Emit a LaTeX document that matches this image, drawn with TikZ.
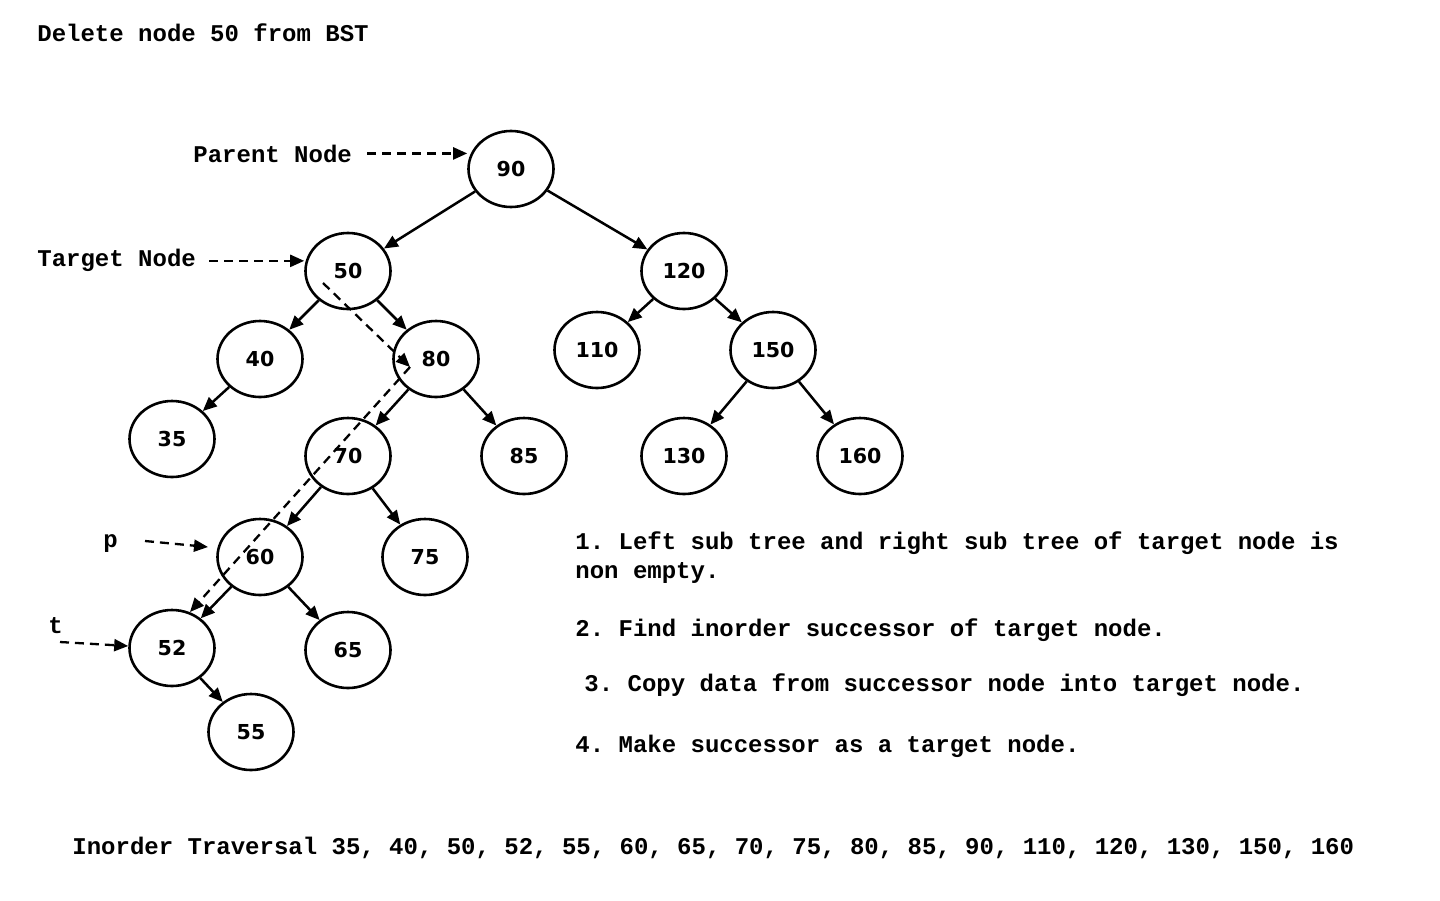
\documentclass[tikz,border=0pt]{standalone}
\usepackage{fontspec}
\setmainfont{Liberation Mono}
\newfontfamily\numfont{DejaVu Sans}
\usetikzlibrary{
  shapes.geometric,
  arrows.meta
}
\tikzset{
  >={Triangle[length=7pt,width=6pt]},
  bst/.style={ellipse, draw, line width=1.3pt, minimum width=42.5pt,
    minimum height=38pt, inner sep=0pt,
    font=\numfont\bfseries\fontsize{10.3}{12}\selectfont},
  link/.style={->, line width=1.25pt},
  hint/.style={->, line width=1.15pt, dash pattern=on 4.5pt off 3pt},
  note/.style={anchor=base west, inner sep=0pt,
    font=\bfseries\fontsize{12}{14}\selectfont}
}

\begin{document}
\frenchspacing
\begin{tikzpicture}[x=0.5pt, y=-0.5pt]
    \useasboundingbox (0,0) rectangle (1440,900);
    \node[note] (title) at (37,41) {Delete node 50 from BST};
    % tree
    \node[bst] (n90) at (511,169) {90};
    \node[bst] (n50) at (348,271) {50};
    \node[bst] (n120) at (684,271) {120};
    \node[bst] (n40) at (260,359) {40};
    \node[bst] (n80) at (436,359) {80};
    \node[bst] (n110) at (597,350) {110};
    \node[bst] (n150) at (773,350) {150};
    \node[bst] (n35) at (172,439) {35};
    \node[bst] (n70) at (348,456) {70};
    \node[bst] (n85) at (524,456) {85};
    \node[bst] (n130) at (684,456) {130};
    \node[bst] (n160) at (860,456) {160};
    \node[bst] (n60) at (260,557) {60};
    \node[bst] (n75) at (425,557) {75};
    \node[bst] (n52) at (172,648) {52};
    \node[bst] (n65) at (348,650) {65};
    \node[bst] (n55) at (251,732) {55};
    \foreach \a/\b in {90/50, 90/120, 50/40, 50/80, 40/35, 80/70, 80/85,
      120/110, 120/150, 150/130, 150/160, 70/60, 70/75, 60/52, 60/65, 52/55}
      \draw[link] (n\a) -- (n\b);
    % pointers
    \node[note] (parent) at (193,162) {Parent Node};
    \node[note] (target) at (37,266) {Target Node};
    \node[note] (p) at (103,547) {p};
    \node[note] (t) at (48,633) {t};
    \draw[hint] ([xshift=7.5pt]parent.east) -- (parent.east -| n90.west);
    \draw[hint] ([shift={(13,1)}]target.east) -- ([shift={(0,1)}]target.east -| n50.west);
    \coordinate (pfrom) at (145,541);
    \coordinate (pto) at (208,547);
    \coordinate (tfrom) at (60,642);
    \draw[hint] (pfrom) -- (pto);
    \draw[hint] (tfrom) -- ([yshift=1pt]n52.west);
    % successor path
    \coordinate (in50) at (323,283);
    \coordinate (in80) at (410,367);
    \coordinate (at52) at (190,612);
    \draw[hint] (in50) -- (in80);
    \draw[hint] (in80) -- (at52);
    % steps
    \node[note] (step1) at (575,549) {1. Left sub tree and right sub tree of target node is};
    \node[note] (step1b) at (575,578) {non empty.};
    \node[note] (step2) at (575,636) {2. Find inorder successor of target node.};
    \node[note] (step3) at (584,691) {3. Copy data from successor node into target node.};
    \node[note] (step4) at (575,752) {4. Make successor as a target node.};
    \node[note] (inorder) at (72,854) {Inorder Traversal 35, 40, 50, 52, 55, 60, 65, 70, 75, 80, 85, 90, 110, 120, 130, 150, 160};
\end{tikzpicture}
\end{document}
